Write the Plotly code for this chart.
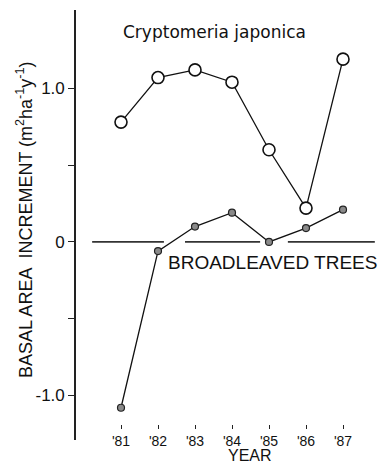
import plotly.graph_objects as go

years = [81, 82, 83, 84, 85, 86, 87]
year_labels = ["'81", "'82", "'83", "'84", "'85", "'86", "'87"]
cryptomeria = [0.78, 1.07, 1.12, 1.04, 0.60, 0.22, 1.19]
broadleaved = [-1.08, -0.06, 0.10, 0.19, 0.00, 0.09, 0.21]
# broken zero reference line segments (x start, x end)
zero_segments = [(80.22, 82.16), (82.73, 84.76), (85.51, 87.86)]
y_tickvals = [1.0, 0.5, 0.0, -0.5, -1.0]
y_ticktext = ["1.0", "", "0", "", "-1.0"]

W, H = 383, 464
ML, MR, MT, MB = 76, 3, 10, 24
PW, PH = W - ML - MR, H - MT - MB

def paper(xpx, ypx):
    return (xpx - ML) / PW, (H - MB - ypx) / PH

FONT = "Liberation Sans, Arial, sans-serif"

fig = go.Figure()
for x0, x1 in zero_segments:
    fig.add_trace(go.Scatter(x=[x0, x1], y=[0, 0], mode="lines",
                             line=dict(color="#333333", width=1.6),
                             hoverinfo="skip", showlegend=False))

fig.add_trace(go.Scatter(x=years, y=broadleaved, mode="lines+markers",
                         line=dict(color="#111111", width=1.3),
                         marker=dict(size=7, color="#8a8a8a",
                                     line=dict(color="#222222", width=1.2)),
                         showlegend=False))
fig.add_trace(go.Scatter(x=years, y=cryptomeria, mode="lines+markers",
                         line=dict(color="#111111", width=1.3),
                         marker=dict(size=12, color="white",
                                     line=dict(color="#111111", width=1.6)),
                         showlegend=False))

ann = []
def add_text(text, xpx, ypx, size, family=FONT, angle=0):
    x, y = paper(xpx, ypx)
    ann.append(dict(text=text, x=x, y=y, xref="paper", yref="paper",
                    xanchor="center", yanchor="middle", textangle=angle,
                    showarrow=False, font=dict(size=size, family=family, color="#111")))

add_text("Cryptomeria japonica", 214, 32, 17, "DejaVu Sans, sans-serif")
add_text("BROADLEAVED TREES", 272, 262, 19)
add_text("BASAL AREA  INCREMENT (m<sup>2</sup>ha<sup>-1</sup>y<sup>-1</sup>)", 24, 220, 18, angle=-90)
add_text("YEAR", 250, 455, 16)

xpos = (H - MB - 424) / PH

fig.update_layout(
    width=W, height=H,
    margin=dict(l=ML, r=MR, t=MT, b=MB, pad=0),
    paper_bgcolor="white", plot_bgcolor="white",
    annotations=ann,
    xaxis=dict(range=[81 - 45 / 37, 81 + 259 / 37], tickvals=years, ticktext=year_labels,
               showline=False, showgrid=False, zeroline=False,
               ticks="outside", ticklen=4, tickwidth=1.2, tickcolor="#222",
               anchor="free", position=xpos,
               tickfont=dict(size=14, family=FONT, color="#111")),
    yaxis=dict(range=[-1.29, 1.51], tickvals=y_tickvals, ticktext=y_ticktext,
               showline=True, linecolor="#222", linewidth=1.6,
               showgrid=False, zeroline=False,
               ticks="outside", ticklen=6, tickwidth=1.4, tickcolor="#222",
               tickfont=dict(size=17, family=FONT, color="#111")),
)

fig.write_html("out.html")
